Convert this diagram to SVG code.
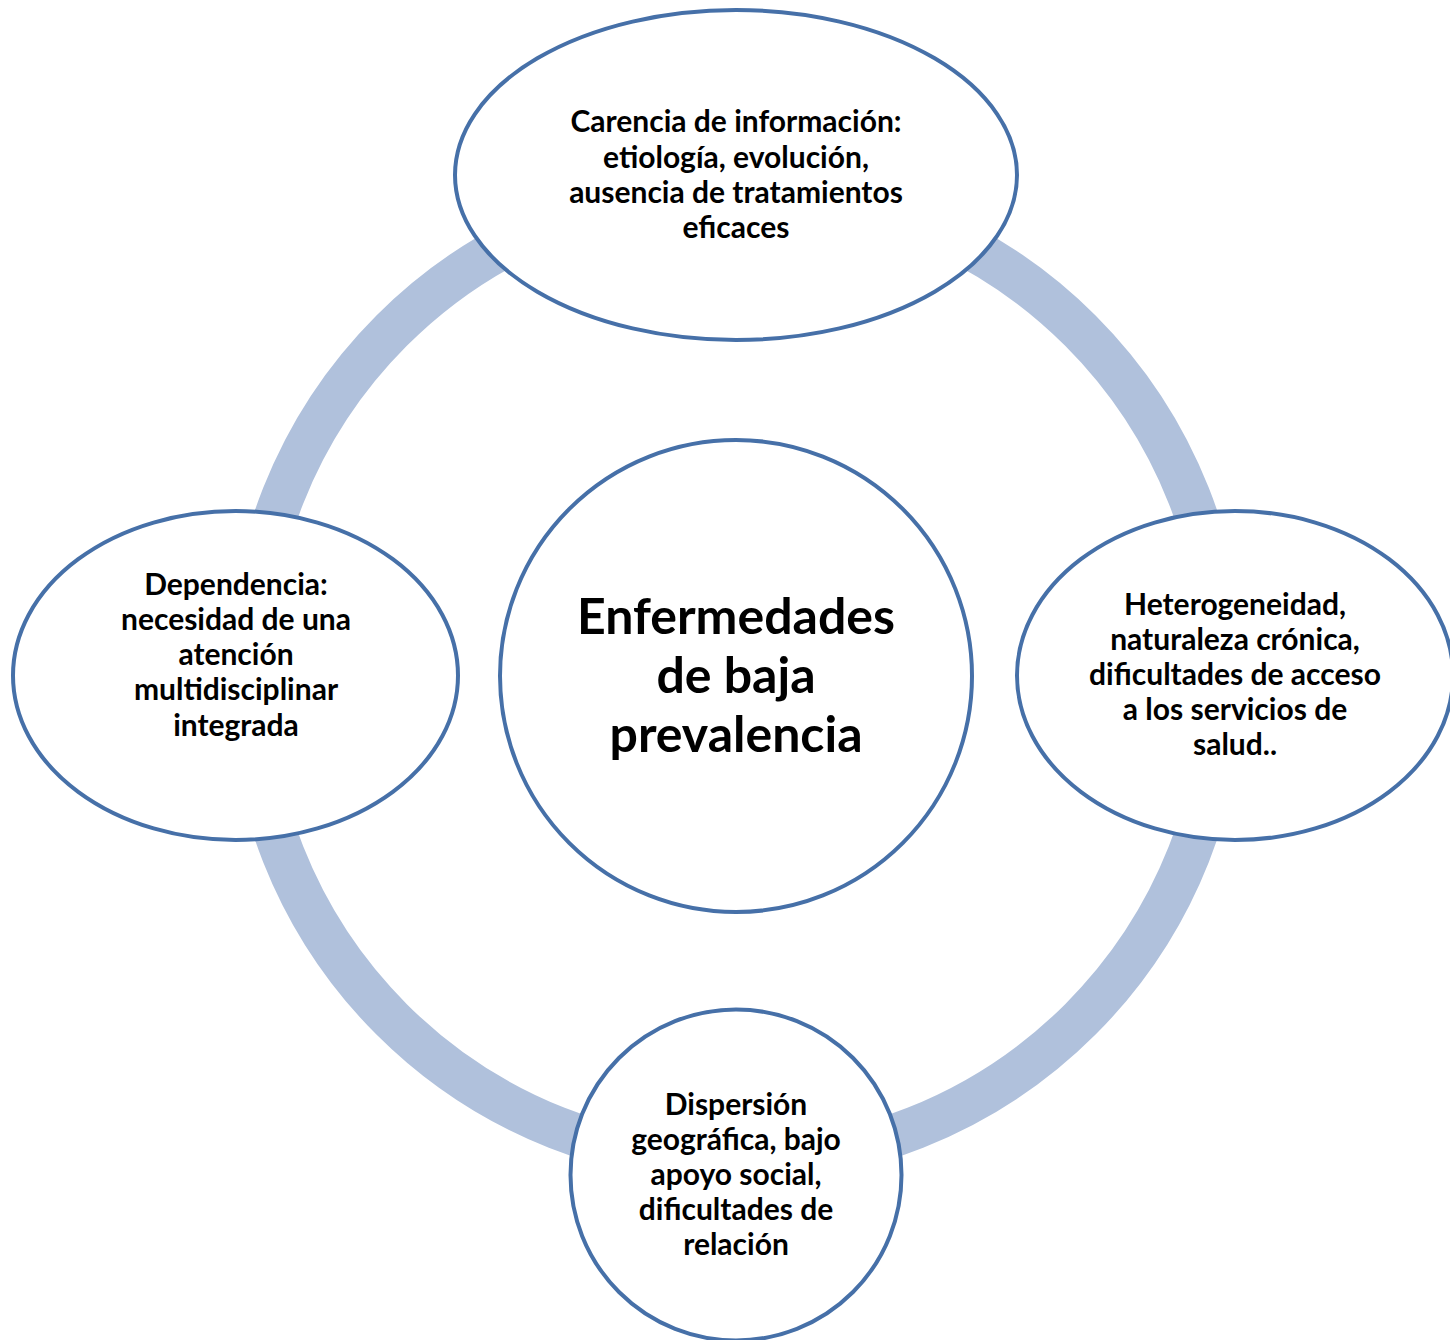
<svg xmlns="http://www.w3.org/2000/svg" width="1450" height="1340" viewBox="0 0 1450 1340">
<style>
.node{fill:#fff;stroke:#4670A8;stroke-width:4}
.t{font-family:Lato,"Open Sans","Liberation Sans",sans-serif;font-weight:bold;font-size:30px;fill:#000;text-anchor:middle}
.big{font-size:50px}
</style>
<rect width="1450" height="1340" fill="#fff"/>
<g id="connectors">
<circle cx="736" cy="675" r="487" fill="none" stroke="#B0C1DC" stroke-width="43"/>
</g>
<g id="center">
<circle class="node" cx="736" cy="676" r="236"/>
<text class="t big" x="736" y="634">Enfermedades</text>
<text class="t big" x="736" y="693">de baja</text>
<text class="t big" x="736" y="752">prevalencia</text>
</g>
<g id="top">
<ellipse class="node" cx="736" cy="175" rx="281" ry="165"/>
<text class="t" x="736" y="132">Carencia de información:</text>
<text class="t" x="736" y="168">etiología, evolución,</text>
<text class="t" x="736" y="203">ausencia de tratamientos</text>
<text class="t" x="736" y="238">eficaces</text>
</g>
<g id="left">
<ellipse class="node" cx="235.5" cy="675.5" rx="222.5" ry="164.5"/>
<text class="t" x="236" y="595">Dependencia:</text>
<text class="t" x="236" y="630">necesidad de una</text>
<text class="t" x="236" y="665">atención</text>
<text class="t" x="236" y="700">multidisciplinar</text>
<text class="t" x="236" y="736">integrada</text>
</g>
<g id="right">
<ellipse class="node" cx="1235" cy="675.5" rx="218" ry="164.5"/>
<text class="t" x="1235" y="615">Heterogeneidad,</text>
<text class="t" x="1235" y="650">naturaleza crónica,</text>
<text class="t" x="1235" y="685">dificultades de acceso</text>
<text class="t" x="1235" y="720">a los servicios de</text>
<text class="t" x="1235" y="755">salud..</text>
</g>
<g id="bottom">
<circle class="node" cx="736" cy="1175" r="165.5"/>
<text class="t" x="736" y="1115">Dispersión</text>
<text class="t" x="736" y="1150">geográfica, bajo</text>
<text class="t" x="736" y="1185">apoyo social,</text>
<text class="t" x="736" y="1220">dificultades de</text>
<text class="t" x="736" y="1255">relación</text>
</g>
</svg>
